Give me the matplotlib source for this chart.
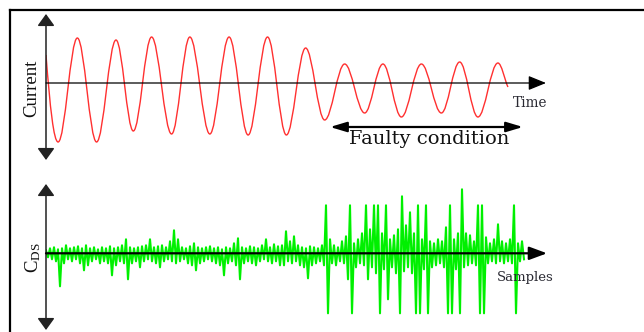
import numpy as np
import matplotlib
matplotlib.use("Agg")
import matplotlib.pyplot as plt
from matplotlib.path import Path
from matplotlib.patches import PathPatch
from matplotlib.lines import Line2D

# current waveform: turning points (time in ms, amplitude)
curr_t = [0, 6.3, 16.3, 26.3, 36.4, 45.4, 54.9, 65.3, 74.8, 85.2, 95.2, 105.1, 115.2,
          125.0, 135.0, 144.9, 155.3, 165.7, 175.2, 184.8, 195.2, 205.6, 215.1, 224.6,
          235.0, 240.2]
curr_v = [28, -59, 45, -59, 43, -48, 46, -51, 46, -51, 46, -52, 46,
          -52, 35, -37, 19, -30, 19, -34, 19, -30, 21, -34, 20, -4]

# C_DS signal: upper / lower excursion per block of 8 samples
cds_up = [3, 5, 6, 4, 5, 8, 5, 6, 7, 5, 8, 5, 6, 4, 6, 5, 7, 5, 6, 8,
          14, 6, 5, 6, 7, 8, 14, 6, 7, 8, 6, 12, 23, 14, 6, 5, 7, 10, 6, 5,
          6, 7, 5, 6, 4, 6, 5, 10, 15, 6, 5, 7, 6, 5, 8, 14, 6, 9, 7, 8,
          22, 12, 17, 8, 6, 5, 7, 6, 5, 8, 48, 14, 8, 6, 12, 17, 48, 10, 14, 20,
          48, 24, 48, 48, 20, 48, 14, 18, 24, 57, 28, 41, 20, 48, 14, 48, 12, 10, 14, 12,
          26, 48, 14, 20, 64, 20, 18, 12, 48, 48, 16, 10, 14, 29, 12, 10, 14, 48, 10, 12]
cds_dn = [4, 6, 8, 33, 10, 6, 8, 6, 10, 17, 12, 8, 6, 10, 8, 10, 22, 12, 8, 10,
          26, 10, 8, 14, 8, 6, 8, 10, 14, 8, 6, 8, 10, 8, 6, 10, 12, 17, 10, 8,
          6, 8, 10, 12, 22, 10, 8, 12, 26, 10, 8, 10, 12, 8, 6, 8, 10, 8, 12, 12,
          8, 10, 8, 12, 14, 25, 12, 10, 8, 12, 60, 10, 12, 8, 10, 26, 60, 14, 10, 12,
          26, 14, 20, 60, 16, 46, 14, 20, 60, 18, 14, 20, 60, 60, 16, 60, 14, 12, 10, 14,
          60, 60, 16, 60, 14, 12, 10, 12, 60, 60, 10, 8, 10, 8, 10, 8, 10, 60, 8, 6]
samples = np.arange(len(cds_up)) * 8

W, H = 644, 332
fig = plt.figure(figsize=(W / 100, H / 100), dpi=100)

# outer frame (top and left edges only)
fig.add_artist(Line2D([10 / W, 1], [1 - 10 / H, 1 - 10 / H], transform=fig.transFigure,
                      color="black", lw=1.6))
fig.add_artist(Line2D([10 / W, 10 / W], [0, 1 - 10 / H], transform=fig.transFigure,
                      color="black", lw=1.6))

serif = "DejaVu Serif"
times = "Liberation Serif"

# ---------- top panel: current ----------
ax1 = fig.add_axes([46 / W, (H - 160) / H, 500 / W, 146 / H])
ax1.set_xlim(0, 260)
ax1.set_ylim(-77, 69)
ax1.axis("off")

k = 0.3634
verts = [(curr_t[0], curr_v[0])]
codes = [Path.MOVETO]
last = len(curr_t) - 2
for j in range(len(curr_t) - 1):
    t0, v0, t1, v1 = curr_t[j], curr_v[j], curr_t[j + 1], curr_v[j + 1]
    dt = t1 - t0
    c1 = (t0 + dt / 3, v0 + (v1 - v0) * 0.6) if j == 0 else (t0 + k * dt, v0)
    c2 = (t1 - dt / 3, v1 - (v1 - v0) * 0.3) if j == last else (t1 - k * dt, v1)
    verts += [c1, c2, (t1, v1)]
    codes += [Path.CURVE4] * 3
ax1.add_patch(PathPatch(Path(verts, codes), fill=False, edgecolor="#ff3030", lw=1.0, zorder=2))

ax1.annotate("", xy=(0, 69), xytext=(0, -77),
             arrowprops=dict(arrowstyle="<|-|>,head_length=0.36,head_width=0.26",
                             mutation_scale=20, color="#222222", lw=1.1,
                             shrinkA=0, shrinkB=0), zorder=3)
ax1.annotate("", xy=(260, 0), xytext=(0, 0),
             arrowprops=dict(arrowstyle="-|>,head_length=0.54,head_width=0.22",
                             mutation_scale=20, color="black", lw=0.9,
                             shrinkA=0, shrinkB=0), zorder=3)
ax1.annotate("", xy=(248, -44), xytext=(147.7, -44),
             arrowprops=dict(arrowstyle="<|-|>,head_length=0.5,head_width=0.15",
                             mutation_scale=20, color="black", lw=1.6,
                             shrinkA=0, shrinkB=0), zorder=3)

ax1.text(252, -20, "Time", fontsize=9.8, family=serif, color="#2a2a33",
         ha="center", va="center")
ax1.text(199, -56, "Faulty condition", fontsize=14, family=serif, color="#111111",
         ha="center", va="center")
ax1.text(-7.3, -5.5, "Current", fontsize=13.5, family=times, color="#111111",
         rotation=90, ha="center", va="center")

# ---------- bottom panel: C_DS ----------
ax2 = fig.add_axes([46 / W, (H - 330) / H, 501 / W, 146 / H])
ax2.set_xlim(0, 1002)
ax2.set_ylim(-76.7, 69.3)
ax2.axis("off")

xs = np.repeat(samples, 2) + np.tile([0, 4], len(samples))
ys = np.column_stack([cds_up, -np.array(cds_dn)]).ravel()
ax2.plot(xs, ys, color="#00f000", lw=1.5, zorder=2)

ax2.annotate("", xy=(0, 69.3), xytext=(0, -76.7),
             arrowprops=dict(arrowstyle="<|-|>,head_length=0.36,head_width=0.26",
                             mutation_scale=20, color="#222222", lw=1.1,
                             shrinkA=0, shrinkB=0), zorder=3)
ax2.annotate("", xy=(1002, 0), xytext=(0, 0),
             arrowprops=dict(arrowstyle="-|>,head_length=0.54,head_width=0.2",
                             mutation_scale=20, color="black", lw=1.6,
                             shrinkA=0, shrinkB=0), zorder=3)

ax2.text(958, -23.7, "Samples", fontsize=9.5, family=serif, color="#2a2a33",
         ha="center", va="center")
ax2.text(-26, -4.7, r"$\mathregular{C_{DS}}$", fontsize=13.5, family=times,
         color="#111111", rotation=90, ha="center", va="center")

fig.savefig("out.png", dpi=100)
